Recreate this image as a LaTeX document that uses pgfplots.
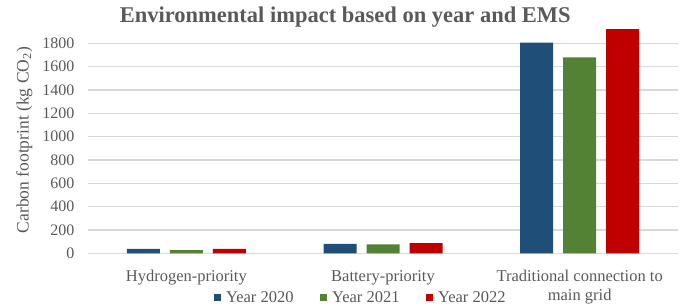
\documentclass[border=0pt]{standalone}
\usepackage{pgfplots}
\pgfplotsset{compat=1.18}
\usetikzlibrary{calc}
\usepackage{fontspec}
\setmainfont{Liberation Serif}
\definecolor{cblue}{HTML}{1F4E79}
\definecolor{cgreen}{HTML}{548235}
\definecolor{cred}{HTML}{C00000}
\definecolor{ctext}{HTML}{595959}
\definecolor{cgrid}{HTML}{D9D9D9}
\begin{document}
\begin{tikzpicture}
\begin{axis}[
  name=ax,
  scale only axis,
  width=590bp, height=233.3bp,
  ybar=10bp, bar width=33bp,
  xmin=-0.5, xmax=2.5,
  ymin=0, ymax=2000,
  xtick={0,1,2},
  xticklabels={Hydrogen-priority, Battery-priority, {Traditional connection to\\main grid}},
  xticklabel style={align=center, yshift=-13.5bp, font=\fontsize{16.5bp}{18.5bp}\selectfont, text=ctext},
  ytick={0,200,...,1800},
  yticklabel style={font=\fontsize{16bp}{18bp}\selectfont, text=ctext, xshift=-10bp},
  /pgf/number format/assume math mode=true,
  /pgf/number format/1000 sep={},
  major tick length=0pt,
  axis line style={draw=none},
  ymajorgrids, grid style={cgrid, line width=1.2bp},
  ylabel={Carbon footprint (kg CO\textsubscript{2})},
  every axis y label/.style={at={(axis description cs:-0.108,0.485)}, rotate=90, anchor=center, font=\fontsize{17.5bp}{19bp}\selectfont, text=ctext},
  title={\textbf{Environmental impact based on year and EMS}},
  title style={at={(axis description cs:0.436,1)}, anchor=base, yshift=-8.3bp, font=\fontsize{22.5bp}{24bp}\selectfont, text=ctext},
  legend columns=3,
  legend style={draw=none, at={(axis description cs:0.462,-0.19)}, anchor=center, font=\fontsize{16.5bp}{18bp}\selectfont, text=ctext, /tikz/every even column/.append style={column sep=24bp}, /tikz/every odd column/.append style={column sep=3bp}},
  area legend,
  legend image code/.code={\fill[#1] (0bp,-3.8bp) rectangle (7.5bp,3.8bp);},
  clip=false,
]
\addplot[fill=cblue, draw=none] coordinates {(0,37) (1,80) (2,1805)};
\addplot[fill=cgreen, draw=none] coordinates {(0,28) (1,77) (2,1680)};
\addplot[fill=cred, draw=none] coordinates {(0,37) (1,88) (2,1922)};
\legend{Year 2020, Year 2021, Year 2022}
\end{axis}
\pgfresetboundingbox
\useasboundingbox ($(ax.south west)+(-88bp,-52bp)$) rectangle ($(ax.north east)+(5bp,20bp)$);
\end{tikzpicture}
\end{document}
